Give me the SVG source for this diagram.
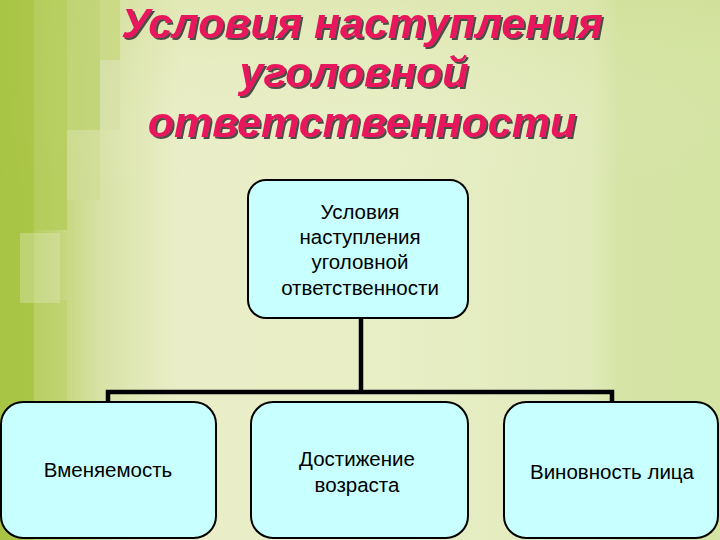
<svg xmlns="http://www.w3.org/2000/svg" width="720" height="540" viewBox="0 0 720 540">
<defs>
<linearGradient id="bgH" x1="0" y1="0" x2="1" y2="0">
<stop offset="0" stop-color="#a6c23e"/>
<stop offset="0.05" stop-color="#b8ce62"/>
<stop offset="0.14" stop-color="#d8e2a6"/>
<stop offset="0.25" stop-color="#eaeec8"/>
<stop offset="0.55" stop-color="#e8eec6"/>
<stop offset="0.82" stop-color="#e0eaba"/>
<stop offset="0.86" stop-color="#d6e4a6"/>
<stop offset="1" stop-color="#d4e4a2"/>
</linearGradient>
<linearGradient id="bgV" x1="0" y1="0" x2="0" y2="1">
<stop offset="0" stop-color="#c8d880" stop-opacity="0.25"/>
<stop offset="0.35" stop-color="#f4f4dc" stop-opacity="0.0"/>
<stop offset="1" stop-color="#f4f4dc" stop-opacity="0"/>
</linearGradient>
<filter id="shadow" x="-5%" y="-30%" width="110%" height="160%">
<feDropShadow dx="2" dy="2" stdDeviation="0.6" flood-color="#3a3a3a" flood-opacity="0.9"/>
</filter>
</defs>
<style>
.title{font-family:"Liberation Sans",Arial,sans-serif;font-weight:bold;font-style:italic;font-size:43px;fill:#e8175d;text-anchor:middle;filter:url(#shadow)}
.box{fill:#c8ffff;stroke:#000;stroke-width:2}
.lbl{font-family:"Liberation Sans",Arial,sans-serif;font-size:20.5px;fill:#000;text-anchor:middle}
.conn{stroke:#000;stroke-width:4.5;fill:none}
</style>
<rect width="720" height="540" fill="url(#bgH)"/>
<rect width="720" height="540" fill="url(#bgV)"/>
<g id="mosaic">
<rect x="0" y="0" width="34" height="540" fill="#a8c444" opacity="0.8"/>
<rect x="34" y="0" width="33" height="230" fill="#b4cc5a" opacity="0.8"/>
<rect x="34" y="300" width="33" height="240" fill="#bcd068" opacity="0.6"/>
<rect x="67" y="0" width="33" height="130" fill="#bed270" opacity="0.8"/>
<rect x="67" y="130" width="33" height="70" fill="#cedc94" opacity="0.7"/>
<rect x="100" y="0" width="20" height="60" fill="#c8d880" opacity="0.8"/>
<rect x="100" y="60" width="20" height="70" fill="#d6e0a6" opacity="0.7"/>
<rect x="20" y="233" width="40" height="70" fill="#e6eac6" opacity="0.35"/>
</g>
<g id="title">
<text class="title" x="362" y="38">Условия наступления</text>
<text class="title" x="354" y="87">уголовной</text>
<text class="title" x="362" y="137">ответственности</text>
</g>
<g id="connectors">
<path class="conn" d="M361,318 V392"/>
<path class="conn" d="M108,402 V392 H612 V402"/>
</g>
<g id="root">
<rect class="box" x="248" y="180" width="220" height="138" rx="18"/>
<text class="lbl" x="360" y="219">Условия</text>
<text class="lbl" x="360" y="244">наступления</text>
<text class="lbl" x="360" y="269">уголовной</text>
<text class="lbl" x="360" y="295">ответственности</text>
</g>
<g id="n1">
<rect class="box" x="1" y="402" width="215" height="136" rx="22"/>
<text class="lbl" x="108" y="477">Вменяемость</text>
</g>
<g id="n2">
<rect class="box" x="251" y="402" width="217" height="136" rx="22"/>
<text class="lbl" x="357" y="466">Достижение</text>
<text class="lbl" x="357" y="492">возраста</text>
</g>
<g id="n3">
<rect class="box" x="504" y="402" width="214" height="136" rx="22"/>
<text class="lbl" x="612" y="479">Виновность лица</text>
</g>
</svg>
